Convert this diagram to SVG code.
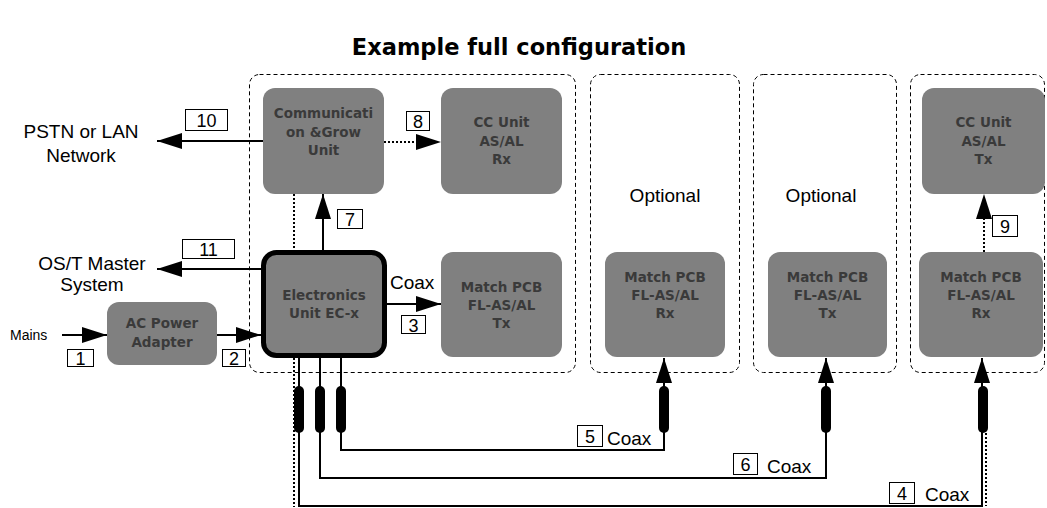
<svg xmlns="http://www.w3.org/2000/svg" width="1047" height="508" viewBox="0 0 1047 508">
<style>
.cont{fill:none;stroke:#000;stroke-width:1;stroke-dasharray:4 3}
.node{fill:#808080;stroke:none}
.nt{font-family:"DejaVu Sans",Verdana,sans-serif;font-weight:bold;font-size:13.5px;fill:#3a3a3a;text-anchor:middle}
.lbl{font-family:"Liberation Sans",Arial,sans-serif;font-size:19px;fill:#000}
.num{font-family:"Liberation Sans",Arial,sans-serif;font-size:18px;fill:#000;text-anchor:middle}
.nb{fill:#fff;stroke:#000;stroke-width:1}
.ln{fill:none;stroke:#000;stroke-width:2}
.dot{fill:none;stroke:#000;stroke-width:2;stroke-dasharray:2 2}
.pill{fill:#000}
</style>
<defs>
<marker id="ah" viewBox="0 0 25 16" refX="25" refY="8" markerUnits="userSpaceOnUse" markerWidth="25" markerHeight="16" orient="auto">
<path d="M0,0 L25,8 L0,16 z" fill="#000"/>
</marker>
</defs>
<rect width="1047" height="508" fill="#fff"/>
<text x="519" y="55" font-family="DejaVu Sans,Verdana,sans-serif" font-weight="bold" font-size="22.5" text-anchor="middle">Example full configuration</text>

<g id="containers">
<rect class="cont" x="249.5" y="74.5" width="326" height="298" rx="10"/>
<rect class="cont" x="590.5" y="74.5" width="149" height="298" rx="10"/>
<rect class="cont" x="753.5" y="74.5" width="143" height="298" rx="10"/>
<rect class="cont" x="910.5" y="74.5" width="134" height="298" rx="10"/>
<text class="lbl" x="665" y="202" text-anchor="middle">Optional</text>
<text class="lbl" x="821" y="202" text-anchor="middle">Optional</text>
</g>

<g id="labels">
<text class="lbl" x="81" y="138" text-anchor="middle">PSTN or LAN</text>
<text class="lbl" x="81" y="162" text-anchor="middle">Network</text>
<text class="lbl" x="92" y="270" text-anchor="middle">OS/T Master</text>
<text class="lbl" x="92" y="291" text-anchor="middle">System</text>
<text x="10" y="340" font-family="Liberation Sans,Arial,sans-serif" font-size="14">Mains</text>
</g>

<g id="connectors">
<path class="ln" d="M263,141 H157" marker-end="url(#ah)"/>
<path class="ln" d="M261,269 H157" marker-end="url(#ah)"/>
<path class="ln" d="M62,335 H107" marker-end="url(#ah)"/>
<path class="ln" d="M217,335 H261" marker-end="url(#ah)"/>
<path class="dot" d="M384,142 H418"/>
<path d="M416,134 L441,142 L416,150 z" fill="#000"/>
<path class="ln" d="M323,250 V194" marker-end="url(#ah)"/>
<path class="ln" d="M387,304 H441" marker-end="url(#ah)"/>
<path class="dot" d="M294,194 V250"/>
<path class="dot" d="M294,358 V507"/>
<path class="ln" d="M341,358 V450 H664 V358" marker-end="url(#ah)"/>
<path class="ln" d="M320,358 V478 H826 V358" marker-end="url(#ah)"/>
<path class="ln" d="M299,358 V506 H982 V358" marker-end="url(#ah)"/>
<path class="dot" d="M986,433 V506"/>
<path class="dot" d="M984,252 V212"/>
<path d="M976,219 L984,194 L992,219 z" fill="#000"/>
<rect class="pill" x="294" y="386" width="10" height="47" rx="5"/>
<rect class="pill" x="315" y="386" width="10" height="47" rx="5"/>
<rect class="pill" x="336" y="386" width="10" height="47" rx="5"/>
<rect class="pill" x="659" y="386" width="10" height="47" rx="5"/>
<rect class="pill" x="821" y="386" width="10" height="47" rx="5"/>
<rect class="pill" x="978" y="386" width="10" height="47" rx="5"/>
<text class="lbl" x="390" y="289">Coax</text>
<text class="lbl" x="607" y="445">Coax</text>
<text class="lbl" x="767" y="473">Coax</text>
<text class="lbl" x="925" y="501">Coax</text>
</g>

<g id="numbers">
<rect class="nb" x="185.5" y="109.5" width="42" height="21"/><text class="num" x="206.5" y="127">10</text>
<rect class="nb" x="182.5" y="239.5" width="52" height="19"/><text class="num" x="208.5" y="256">11</text>
<rect class="nb" x="67.5" y="349.5" width="26" height="17"/><text class="num" x="80.5" y="365">1</text>
<rect class="nb" x="222.5" y="349.5" width="23" height="17"/><text class="num" x="234" y="365">2</text>
<rect class="nb" x="401.5" y="315.5" width="24" height="18"/><text class="num" x="413.5" y="332">3</text>
<rect class="nb" x="406.5" y="111.5" width="23" height="19"/><text class="num" x="418" y="128">8</text>
<rect class="nb" x="337.5" y="209.5" width="25" height="19"/><text class="num" x="350" y="226">7</text>
<rect class="nb" x="992.5" y="215.5" width="25" height="21"/><text class="num" x="1005" y="233">9</text>
<rect class="nb" x="577.5" y="425.5" width="25" height="21"/><text class="num" x="590" y="443">5</text>
<rect class="nb" x="733.5" y="453.5" width="24" height="21"/><text class="num" x="745.5" y="471">6</text>
<rect class="nb" x="889.5" y="482.5" width="25" height="21"/><text class="num" x="902" y="500">4</text>
</g>

<g id="comm">
<rect class="node" x="263" y="88" width="121" height="106" rx="12"/>
<text class="nt" x="323.5" y="118">Communicati</text>
<text class="nt" x="323.5" y="137">on &amp;Grow</text>
<text class="nt" x="323.5" y="155">Unit</text>
</g>
<g id="ccrx">
<rect class="node" x="441" y="88" width="121" height="106" rx="12"/>
<text class="nt" x="501.5" y="127">CC Unit</text>
<text class="nt" x="501.5" y="146">AS/AL</text>
<text class="nt" x="501.5" y="164">Rx</text>
</g>
<g id="electronics">
<rect x="263.5" y="252.5" width="121" height="103" rx="13" fill="#808080" stroke="#000" stroke-width="5"/>
<text class="nt" x="324" y="300">Electronics</text>
<text class="nt" x="324" y="318">Unit EC-x</text>
</g>
<g id="matchtx1">
<rect class="node" x="441" y="252" width="121" height="105" rx="12"/>
<text class="nt" x="501.5" y="292">Match PCB</text>
<text class="nt" x="501.5" y="310">FL-AS/AL</text>
<text class="nt" x="501.5" y="328">Tx</text>
</g>
<g id="acpower">
<rect class="node" x="107" y="302" width="110" height="63" rx="12"/>
<text class="nt" x="162" y="328">AC Power</text>
<text class="nt" x="162" y="347">Adapter</text>
</g>
<g id="matchrx2">
<rect class="node" x="605" y="252" width="120" height="105" rx="12"/>
<text class="nt" x="665" y="282">Match PCB</text>
<text class="nt" x="665" y="300">FL-AS/AL</text>
<text class="nt" x="665" y="318">Rx</text>
</g>
<g id="matchtx3">
<rect class="node" x="768" y="252" width="119" height="105" rx="12"/>
<text class="nt" x="827.5" y="282">Match PCB</text>
<text class="nt" x="827.5" y="300">FL-AS/AL</text>
<text class="nt" x="827.5" y="318">Tx</text>
</g>
<g id="matchrx4">
<rect class="node" x="919" y="252" width="124" height="105" rx="12"/>
<text class="nt" x="981" y="282">Match PCB</text>
<text class="nt" x="981" y="300">FL-AS/AL</text>
<text class="nt" x="981" y="318">Rx</text>
</g>
<g id="cctx">
<rect class="node" x="922" y="88" width="123" height="106" rx="12"/>
<text class="nt" x="983.5" y="127">CC Unit</text>
<text class="nt" x="983.5" y="146">AS/AL</text>
<text class="nt" x="983.5" y="164">Tx</text>
</g>
</svg>
